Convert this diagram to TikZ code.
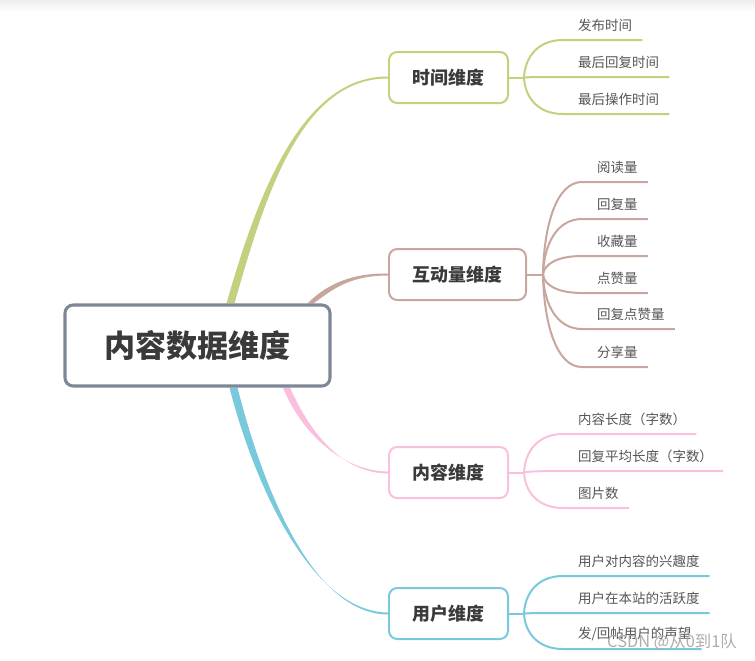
\documentclass[tikz,border=0pt]{standalone}
\usepackage{fontspec}
\setmainfont{Noto Sans CJK SC}
\usepackage{tikz}
\usetikzlibrary{positioning,calc,backgrounds}
\usepackage{xcolor}
\definecolor{RootEdge}{HTML}{7D8796}
\definecolor{TimeGreen}{HTML}{C3D07E}
\definecolor{InterRose}{HTML}{C9A69D}
\definecolor{TextPink}{HTML}{F9BFDD}
\definecolor{UserBlue}{HTML}{79C9DC}
\definecolor{Ink}{HTML}{3A3A3A}
\definecolor{LeafInk}{HTML}{555555}

\tikzset{
  rootbox/.style={draw=RootEdge, line width=2.6pt, rounded corners=7pt, fill=white,
    minimum width=7.95cm, minimum height=2.43cm,
    font=\fontsize{26.5}{30}\selectfont\bfseries, text=Ink},
  dimbox/.style={draw=#1, line width=1.7pt, rounded corners=7pt, fill=white,
    minimum width=3.57cm, minimum height=1.53cm,
    font=\fontsize{15.3}{18}\selectfont\bfseries, text=Ink},
  leaf/.style={anchor=south west, inner xsep=0pt, inner ysep=7pt,
    font=\fontsize{11.5}{13}\selectfont, text=LeafInk},
  twig/.style={line width=1.7pt, #1},
}

\begin{document}
\begin{tikzpicture}[x=0.03cm, y=-0.03cm]
  \useasboundingbox (0,0) rectangle (755,660);
  % faint band along the top edge
  \shade[top color=black!7, bottom color=white] (0,0) rectangle (755,12);

  % root and the four dimensions
  \node[rootbox] (root) at (197.5,345.5) {内容数据维度};
  \node[dimbox=TimeGreen] (time) at (448.5,77.5) {时间维度};
  \node[dimbox=InterRose, minimum width=4.11cm] (inter) at (457.5,274.5) {互动量维度};
  \node[dimbox=TextPink] (content) at (448.5,472.5) {内容维度};
  \node[dimbox=UserBlue] (user) at (448.5,613.5) {用户维度};

  % main stems, thick at the root and thin at the box
  \begin{scope}[on background layer]
    \coordinate (g0) at ($(root.north west)+(167,0)$);
    \coordinate (r0) at ($(root.north west)+(247,0)$);
    \coordinate (p0) at ($(root.south west)+(223,0)$);
    \coordinate (u0) at ($(root.south west)+(170,0)$);
    \fill[TimeGreen] ($(g0)+(-4,0)$) .. controls (256,200) and (300,76) .. ($(time.west)+(0,-1)$)
      -- ($(time.west)+(0,1)$) .. controls (300,78) and (264,200) .. ($(g0)+(4,0)$) -- cycle;
    \fill[InterRose] ($(r0)+(-3,0)$) .. controls (326,285) and (350,273) .. ($(inter.west)+(0,-1)$)
      -- ($(inter.west)+(0,1)$) .. controls (350,275.5) and (333,289) .. ($(r0)+(3,0)$) -- cycle;
    \fill[TextPink] ($(p0)+(-3.5,0)$) .. controls (300,430) and (340,471) .. ($(content.west)+(0,-1)$)
      -- ($(content.west)+(0,1)$) .. controls (340,473) and (309,430) .. ($(p0)+(3.5,0)$) -- cycle;
    \fill[UserBlue] ($(u0)+(-4,0)$) .. controls (253,480) and (310,612) .. ($(user.west)+(0,-1)$)
      -- ($(user.west)+(0,1)$) .. controls (310,614) and (261,480) .. ($(u0)+(4,0)$) -- cycle;
  \end{scope}

  % time leaves
  \coordinate (ts) at ($(time.east)+(15,0)$);
  \node[leaf] (t1) at (578,40) {发布时间};
  \node[leaf] (t2) at (578,77) {最后回复时间};
  \node[leaf] (t3) at (578,114) {最后操作时间};
  \draw[twig=TimeGreen] (time.east) -- (ts);
  \foreach \l in {t1,t2,t3}
    \draw[twig=TimeGreen] (ts) .. controls ($(ts |- \l.south)!0.45!(ts)+(1,0)$)
      and ($(ts |- \l.south)+(14,0)$) .. ($(\l.south west)+(-15,0)$) -- ($(\l.south east)+(10,0)$);

  % interaction leaves
  \coordinate (is) at ($(inter.east)+(16,0)$);
  \node[leaf] (i1) at (597,182) {阅读量};
  \node[leaf] (i2) at (597,219) {回复量};
  \node[leaf] (i3) at (597,256) {收藏量};
  \node[leaf] (i4) at (597,293) {点赞量};
  \node[leaf] (i5) at (597,329) {回复点赞量};
  \node[leaf] (i6) at (597,367) {分享量};
  \draw[twig=InterRose] (inter.east) -- (is);
  \foreach \l in {i1,i2,i3,i4,i5,i6}
    \draw[twig=InterRose] (is) .. controls ($(is |- \l.south)!0.45!(is)+(1,0)$)
      and ($(is |- \l.south)+(14,0)$) .. ($(\l.south west)+(-15,0)$) -- ($(\l.south east)+(10,0)$);

  % content leaves
  \coordinate (cs) at ($(content.east)+(15,0)$);
  \node[leaf] (c1) at (578,434) {内容长度（字数）};
  \node[leaf] (c2) at (578,471) {回复平均长度（字数）};
  \node[leaf] (c3) at (578,508) {图片数};
  \draw[twig=TextPink] (content.east) -- (cs);
  \foreach \l in {c1,c2,c3}
    \draw[twig=TextPink] (cs) .. controls ($(cs |- \l.south)!0.45!(cs)+(1,0)$)
      and ($(cs |- \l.south)+(14,0)$) .. ($(\l.south west)+(-15,0)$) -- ($(\l.south east)+(10,0)$);

  % user leaves
  \coordinate (us) at ($(user.east)+(15,0)$);
  \node[leaf] (u1) at (578,576) {用户对内容的兴趣度};
  \node[leaf] (u2) at (578,613) {用户在本站的活跃度};
  \node[leaf] (u3) at (578,649) {发/回帖用户的声望};
  \draw[twig=UserBlue] (user.east) -- (us);
  \foreach \l in {u1,u2,u3}
    \draw[twig=UserBlue] (us) .. controls ($(us |- \l.south)!0.45!(us)+(1,0)$)
      and ($(us |- \l.south)+(14,0)$) .. ($(\l.south west)+(-15,0)$) -- ($(\l.south east)+(10,0)$);

  % watermark
  \node[font=\fontsize{14}{16}\selectfont, text=black!32] (mark) at (672,642) {CSDN @从0到1队};
\end{tikzpicture}
\end{document}
